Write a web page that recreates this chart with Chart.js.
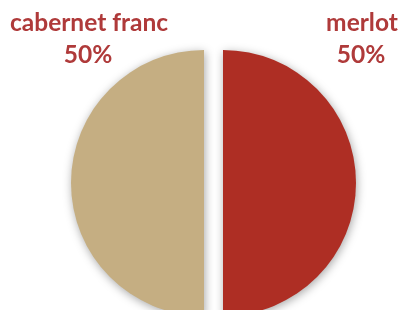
<!DOCTYPE html>
<html>
<head>
<meta charset="utf-8">
<script src="https://cdn.jsdelivr.net/npm/chart.js@4"></script>
<style>
  html, body { margin: 0; padding: 0; background: #fff; }
  #wrap { width: 401px; height: 310px; overflow: hidden; }
</style>
</head>
<body>
<div id="wrap"><canvas id="pieChart" width="401" height="310"></canvas></div>
<script>
// grape varieties and their share
var varieties = ['merlot', 'cabernet franc'];
var shares = [50, 50];
var sliceColors = ['#AE2E24', '#C5AE82'];
var labelColor = '#AF3A3A';
var explode = 9.5; // how far each slice is pulled out

// pull slices apart along their middle angle (keeps the cut edges straight)
var explodePlugin = {
  id: 'explode',
  afterUpdate: function(chart) {
    chart.getDatasetMeta(0).data.forEach(function(arc) {
      var mid = (arc.startAngle + arc.endAngle) / 2;
      arc.x += Math.cos(mid) * explode;
      arc.y += Math.sin(mid) * explode;
    });
  }
};

// soft shadow behind the slices
var shadowPlugin = {
  id: 'shadow',
  beforeDatasetsDraw: function(chart) {
    var ctx = chart.ctx;
    ctx.save();
    ctx.shadowColor = 'rgba(0, 0, 0, 0.35)';
    ctx.shadowBlur = 10;
    ctx.shadowOffsetX = 1;
    ctx.shadowOffsetY = 2;
  },
  afterDatasetsDraw: function(chart) {
    chart.ctx.restore();
  }
};

// category name + percentage in the top corners
var cornerLabels = {
  id: 'cornerLabels',
  afterDraw: function(chart) {
    var ctx = chart.ctx;
    var data = chart.data.datasets[0].data;
    var total = data.reduce(function(a, b) { return a + b; }, 0);
    var spots = [{x: 362, y: 31}, {x: 89, y: 31}];
    ctx.save();
    ctx.fillStyle = labelColor;
    ctx.font = 'bold 24.5px Lato';
    ctx.textAlign = 'center';
    ctx.textBaseline = 'alphabetic';
    chart.data.labels.forEach(function(lbl, i) {
      var pct = Math.round(data[i] / total * 100) + '%';
      ctx.fillText(lbl, spots[i].x, spots[i].y);
      ctx.fillText(pct, spots[i].x - 1, spots[i].y + 32);
    });
    ctx.restore();
  }
};

var ctx = document.getElementById('pieChart');
var myChart = new Chart(ctx, {
  type: 'pie',
  data: {
    labels: varieties,
    datasets: [{
      data: shares,
      backgroundColor: sliceColors,
      borderWidth: 0
    }]
  },
  options: {
    responsive: false,
    animation: false,
    radius: 133,
    layout: { padding: { left: 26, top: 56 } },
    plugins: {
      legend: { display: false },
      tooltip: { enabled: false }
    }
  },
  plugins: [explodePlugin, shadowPlugin, cornerLabels]
});
</script>
</body>
</html>
